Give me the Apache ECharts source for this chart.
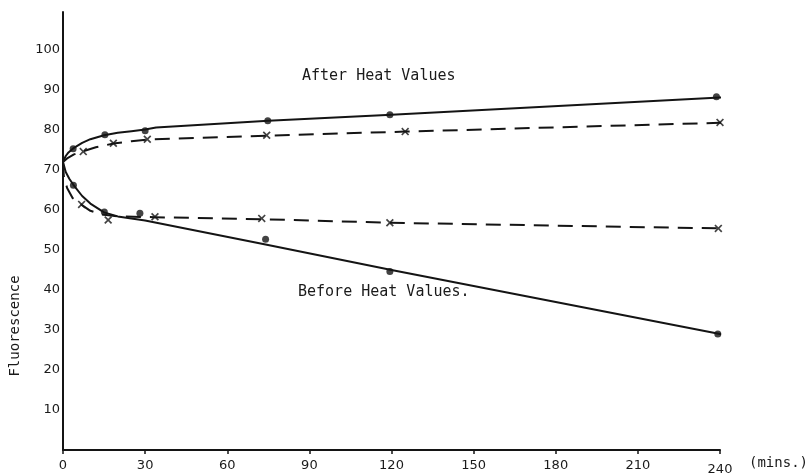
<!DOCTYPE html>
<html>
<head>
<meta charset="utf-8">
<script src="https://cdn.jsdelivr.net/npm/echarts@6/dist/echarts.min.js"></script>
<style>html,body{margin:0;padding:0;background:#fff}#c{width:811px;height:476px}</style>
</head>
<body>
<div id="c"></div>
<script>
// ---- data ----
const xTicks = [0, 30, 60, 90, 120, 150, 180, 210, 240];
const yTicks = [10, 20, 30, 40, 50, 60, 70, 80, 90, 100];

// After heat – solid curve (traced) and its dot markers
const afterSolidLineX = [0, 1, 2, 3.7, 7, 10, 15, 20, 25, 30, 34, 75, 120, 240, 243];
const afterSolidLineY = [72, 73.5, 74.4, 75.4, 76.8, 77.7, 78.7, 79.3, 79.7, 80.1, 80.6, 82.3, 83.8, 88.1, 88.2];
const afterSolidPtsX = [3.7, 15.3, 30, 74.8, 119.4, 238.7];
const afterSolidPtsY = [75.3, 78.8, 79.8, 82.3, 83.8, 88.3];

// After heat – dashed curve (traced) and its x markers
const afterDashLineX = [0, 1.5, 4, 7.4, 12, 18.4, 25, 30.8, 75, 125, 240, 247.5];
const afterDashLineY = [72, 72.9, 73.9, 74.7, 75.7, 76.6, 77.2, 77.6, 78.6, 79.6, 81.8, 82];
const afterDashPtsX = [7.4, 18.4, 30.8, 74.4, 125, 240];
const afterDashPtsY = [74.6, 76.7, 77.7, 78.7, 79.6, 81.9];

// Before heat – solid curve (traced) and its dot markers
const beforeSolidLineX = [0, 1, 2.3, 3.8, 7, 10, 15, 20, 30, 74, 120, 240, 242];
const beforeSolidLineY = [72, 69.5, 67.8, 66.3, 63.5, 61.6, 59.4, 58.4, 57.4, 51.4, 45, 29, 28.7];
const beforeSolidPtsX = [3.8, 15.1, 28.1, 74, 119.4, 239.2];
const beforeSolidPtsY = [66.2, 59.5, 59.2, 52.7, 44.6, 29];

// Before heat – dashed curve (traced) and its x markers
const beforeDashLineX = [0, 0.3, 1.5, 3.5, 6.8, 10, 14, 20, 33.6, 72.6, 119.4, 239.4, 245.5];
const beforeDashLineY = [72, 68.5, 65.5, 63, 61.3, 59.8, 58.9, 58.4, 58.2, 57.7, 56.8, 55.4, 55.3];
const beforeDashPtsX = [6.8, 16.5, 33.6, 72.6, 119.4, 239.4];
const beforeDashPtsY = [61.4, 57.5, 58.3, 57.9, 56.8, 55.4];

const labelAfter = 'After Heat Values';
const labelBefore = 'Before Heat Values.';
const yName = 'Fluorescence';
const xName = '(mins.)';

// ---- build ----
const zip = (xs, ys) => xs.map((x, i) => [x, ys[i]]);
const INK = '#141414';
const MONO = '"DejaVu Sans Mono", "Liberation Mono", monospace';
const XSYM = 'path://M0,1.5L1.5,0L5,3.5L8.5,0L10,1.5L6.5,5L10,8.5L8.5,10L5,6.5L1.5,10L0,8.5L3.5,5Z';

function lineSeries(xs, ys, dashed) {
  return {
    type: 'line', data: zip(xs, ys), smooth: false,
    showSymbol: false, symbol: 'none', clip: false, silent: true,
    lineStyle: { color: INK, width: 2, type: dashed ? [15, 9] : 'solid', join: 'round' },
    z: 2
  };
}
function pointSeries(xs, ys, cross) {
  return {
    type: 'scatter', data: zip(xs, ys), symbol: cross ? XSYM : 'circle',
    symbolSize: cross ? 8 : 7, itemStyle: { color: INK }, clip: false, z: 3
  };
}

const chart = echarts.init(document.getElementById('c'), null, { renderer: 'canvas' });
chart.setOption({
  backgroundColor: '#fff',
  animation: false,
  grid: { left: 63, right: 91, top: 12, bottom: 26, containLabel: false },
  xAxis: {
    type: 'value', min: xTicks[0], max: xTicks[xTicks.length - 1], interval: 30,
    axisLine: { lineStyle: { color: INK, width: 2 } },
    axisTick: { show: true, length: 4, lineStyle: { color: INK, width: 1.5 } },
    splitLine: { show: false },
    axisLabel: {
      color: '#1a1a1a', fontSize: 13, fontFamily: 'DejaVu Sans', margin: 9,
      formatter: v => xTicks.includes(v) ? (v === 240 ? '{low|240}' : String(v)) : '',
      rich: { low: { fontSize: 13, fontFamily: 'DejaVu Sans', color: '#1a1a1a', padding: [4, 0, 0, 0] } }
    }
  },
  yAxis: {
    type: 'value', min: 0, max: 109.5, interval: 10,
    axisLine: { show: true, lineStyle: { color: INK, width: 2 } },
    axisTick: { show: false },
    splitLine: { show: false },
    axisLabel: {
      color: '#1a1a1a', fontSize: 13, fontFamily: 'DejaVu Sans', margin: 3,
      formatter: v => yTicks.includes(v) ? String(v) : ''
    }
  },
  series: [
    lineSeries(afterSolidLineX, afterSolidLineY, false),
    pointSeries(afterSolidPtsX, afterSolidPtsY, false),
    lineSeries(afterDashLineX, afterDashLineY, true),
    pointSeries(afterDashPtsX, afterDashPtsY, true),
    lineSeries(beforeSolidLineX, beforeSolidLineY, false),
    pointSeries(beforeSolidPtsX, beforeSolidPtsY, false),
    lineSeries(beforeDashLineX, beforeDashLineY, true),
    pointSeries(beforeDashPtsX, beforeDashPtsY, true)
  ],
  graphic: [
    { type: 'text', left: 302, top: 69, style: { text: labelAfter, font: '15px ' + MONO, fill: '#1a1a1a' } },
    { type: 'text', left: 298, top: 285, style: { text: labelBefore, font: '15px ' + MONO, fill: '#1a1a1a' } },
    { type: 'text', x: 15, y: 326, rotation: Math.PI / 2,
      style: { text: yName, font: '14px ' + MONO, fill: '#1a1a1a', align: 'center', verticalAlign: 'middle' } },
    { type: 'text', left: 749, top: 456, style: { text: xName, font: '14px ' + MONO, fill: '#1a1a1a' } }
  ]
});
</script>
</body>
</html>
